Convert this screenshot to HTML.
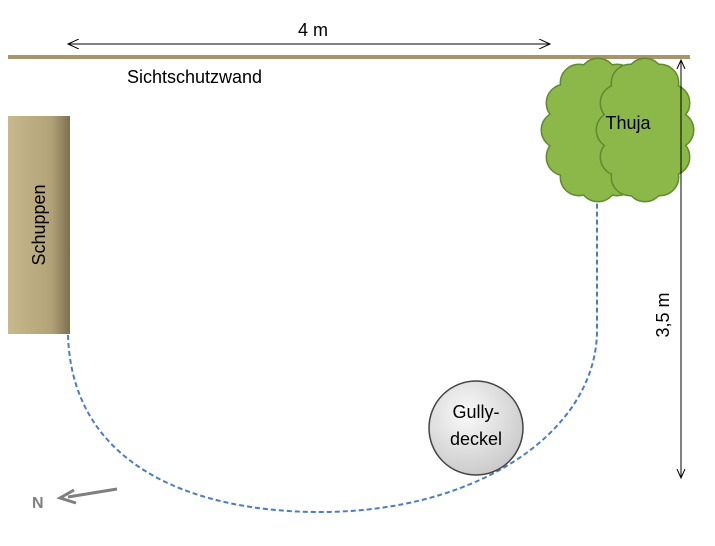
<html><head><style>body{margin:0;background:#fff}svg{display:block}text{font-family:"Liberation Sans",sans-serif}</style></head><body>
<svg width="715" height="546" viewBox="0 0 715 546">
<defs>
<marker id="a" markerWidth="12" markerHeight="10" refX="11" refY="5" orient="auto-start-reverse" markerUnits="userSpaceOnUse"><path d="M0,0 L11,5 L0,10" fill="none" stroke="#000" stroke-width="1"/></marker>
<marker id="b" markerWidth="10" markerHeight="10" refX="9" refY="5" orient="auto-start-reverse" markerUnits="userSpaceOnUse"><path d="M0,1 L9,5 L0,9" fill="none" stroke="#000" stroke-width="1"/></marker>
<linearGradient id="s" x1="0" x2="1"><stop offset="0" stop-color="#c8b88e"/><stop offset="0.7" stop-color="#b2a278"/><stop offset="1" stop-color="#7d7050"/></linearGradient>
<radialGradient id="g" cx="0.4" cy="0.35" r="0.7"><stop offset="0" stop-color="#fafafa"/><stop offset="1" stop-color="#c8c8c8"/></radialGradient>
<g id="c1"><circle cx="636" cy="130" r="18"/><circle cx="631" cy="157" r="18"/><circle cx="617" cy="177" r="18"/><circle cx="598" cy="183" r="18"/><circle cx="579" cy="177" r="18"/><circle cx="565" cy="157" r="18"/><circle cx="560" cy="130" r="18"/><circle cx="565" cy="103" r="18"/><circle cx="579" cy="83" r="18"/><circle cx="598" cy="77" r="18"/><circle cx="617" cy="83" r="18"/><circle cx="631" cy="103" r="18"/><ellipse cx="598" cy="130" rx="38" ry="55"/></g>
<g id="c2"><circle cx="675" cy="130" r="18"/><circle cx="671" cy="157" r="18"/><circle cx="660" cy="177" r="18"/><circle cx="645" cy="183" r="18"/><circle cx="630" cy="177" r="18"/><circle cx="619" cy="157" r="18"/><circle cx="615" cy="130" r="18"/><circle cx="619" cy="103" r="18"/><circle cx="630" cy="83" r="18"/><circle cx="645" cy="77" r="18"/><circle cx="660" cy="83" r="18"/><circle cx="671" cy="103" r="18"/><ellipse cx="645" cy="130" rx="30" ry="55"/></g>
</defs>
<rect x="8" y="55" width="682" height="4" fill="#a89468"/>
<line x1="68" y1="44" x2="550" y2="44" stroke="#000" marker-start="url(#a)" marker-end="url(#a)"/>
<text x="313" y="36" font-size="18" text-anchor="middle">4 m</text>
<text x="127" y="83" font-size="18">Sichtschutzwand</text>
<rect x="8" y="116" width="62" height="218" fill="url(#s)"/>
<text transform="translate(45,225) rotate(-90)" font-size="18" text-anchor="middle">Schuppen</text>
<path d="M68,335 C72,470 200,512 320,512 C480,512 597,430 597,330 L597,200" fill="none" stroke="#4a7cc8" stroke-width="2" stroke-dasharray="5,3"/>
<use href="#c1" fill="#8cb84a" stroke="#5f8a2e" stroke-width="3"/>
<use href="#c1" fill="#8cb84a"/>
<use href="#c2" fill="#8cb84a" stroke="#5f8a2e" stroke-width="3"/>
<use href="#c2" fill="#8cb84a"/>
<text x="628" y="129" font-size="18" text-anchor="middle">Thuja</text>
<line x1="681" y1="60" x2="681" y2="478" stroke="#000" marker-start="url(#b)" marker-end="url(#b)"/>
<text transform="translate(669,315) rotate(-90)" font-size="18" text-anchor="middle">3,5 m</text>
<circle cx="476" cy="428" r="47" fill="url(#g)" stroke="#444" stroke-width="1.5"/>
<text x="476" y="418" font-size="18" text-anchor="middle">Gully-</text>
<text x="476" y="445" font-size="18" text-anchor="middle">deckel</text>
<line x1="117" y1="489" x2="68" y2="497" stroke="#7f7f7f" stroke-width="3"/>
<path d="M74,490 L60,498 L76,503" fill="none" stroke="#7f7f7f" stroke-width="3"/>
<text x="32" y="508" font-size="16" font-weight="bold" fill="#7f7f7f">N</text>
</svg></body></html>
